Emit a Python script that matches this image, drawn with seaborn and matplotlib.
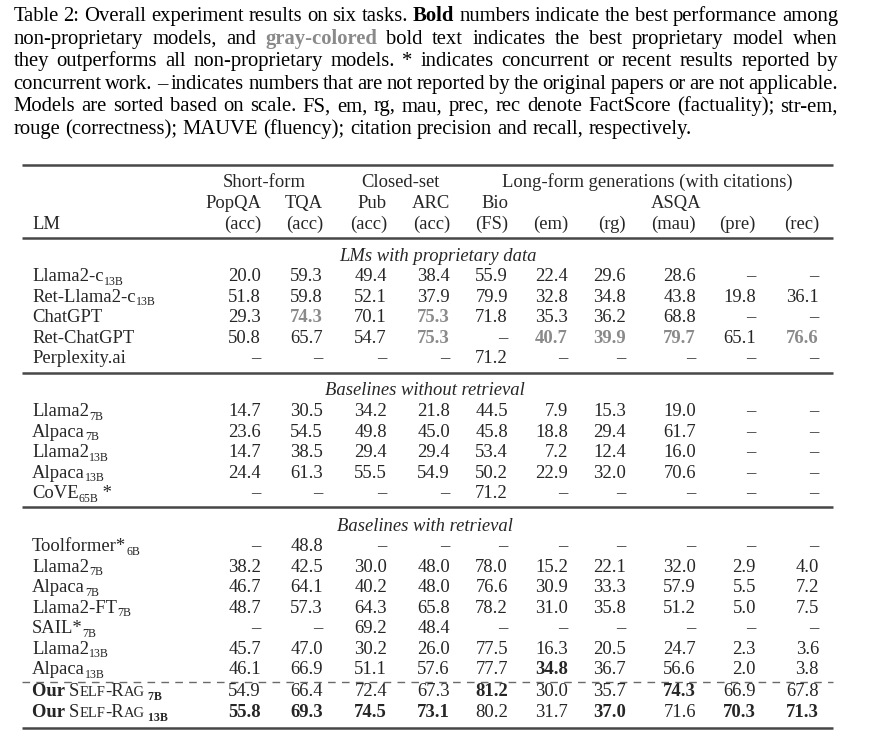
import matplotlib
matplotlib.use('Agg')
import seaborn as sns
import matplotlib.pyplot as plt

sns.set_theme(style='white')
plt.rcParams['font.family'] = ['Liberation Serif', 'DejaVu Serif']

NA = None
# model names, size subscripts and groups
models = ['Llama2-c', 'Ret-Llama2-c', 'ChatGPT', 'Ret-ChatGPT', 'Perplexity.ai',
          'Llama2', 'Alpaca', 'Llama2', 'Alpaca', 'CoVE',
          'Toolformer*', 'Llama2', 'Alpaca', 'Llama2-FT', 'SAIL*', 'Llama2', 'Alpaca',
          'SELF-RAG', 'SELF-RAG']
sizes = ['13B', '13B', '', '', '',
         '7B', '7B', '13B', '13B', '65B',
         '6B', '7B', '7B', '7B', '7B', '13B', '13B',
         '7B', '13B']
groups = ['LMs with proprietary data', 'Baselines without retrieval', 'Baselines with retrieval']

# results
popqa = [20.0, 51.8, 29.3, 50.8, NA, 14.7, 23.6, 14.7, 24.4, NA, NA, 38.2, 46.7, 48.7, NA, 45.7, 46.1, 54.9, 55.8]
tqa = [59.3, 59.8, 74.3, 65.7, NA, 30.5, 54.5, 38.5, 61.3, NA, 48.8, 42.5, 64.1, 57.3, NA, 47.0, 66.9, 66.4, 69.3]
pub = [49.4, 52.1, 70.1, 54.7, NA, 34.2, 49.8, 29.4, 55.5, NA, NA, 30.0, 40.2, 64.3, 69.2, 30.2, 51.1, 72.4, 74.5]
arc = [38.4, 37.9, 75.3, 75.3, NA, 21.8, 45.0, 29.4, 54.9, NA, NA, 48.0, 48.0, 65.8, 48.4, 26.0, 57.6, 67.3, 73.1]
bio = [55.9, 79.9, 71.8, NA, 71.2, 44.5, 45.8, 53.4, 50.2, 71.2, NA, 78.0, 76.6, 78.2, NA, 77.5, 77.7, 81.2, 80.2]
em = [22.4, 32.8, 35.3, 40.7, NA, 7.9, 18.8, 7.2, 22.9, NA, NA, 15.2, 30.9, 31.0, NA, 16.3, 34.8, 30.0, 31.7]
rg = [29.6, 34.8, 36.2, 39.9, NA, 15.3, 29.4, 12.4, 32.0, NA, NA, 22.1, 33.3, 35.8, NA, 20.5, 36.7, 35.7, 37.0]
mau = [28.6, 43.8, 68.8, 79.7, NA, 19.0, 61.7, 16.0, 70.6, NA, NA, 32.0, 57.9, 51.2, NA, 24.7, 56.6, 74.3, 71.6]
pre = [NA, 19.8, NA, 65.1, NA, NA, NA, NA, NA, NA, NA, 2.9, 5.5, 5.0, NA, 2.3, 2.0, 66.9, 70.3]
rec = [NA, 36.1, NA, 76.6, NA, NA, NA, NA, NA, NA, NA, 4.0, 7.2, 7.5, NA, 3.6, 3.8, 67.8, 71.3]
columns = [popqa, tqa, pub, arc, bio, em, rg, mau, pre, rec]

task_labels = ['PopQA', 'TQA', 'Pub', 'ARC', 'Bio', '', '', 'ASQA', '', '']
metric_labels = ['(acc)', '(acc)', '(acc)', '(acc)', '(FS)', '(em)', '(rg)', '(mau)', '(pre)', '(rec)']
super_labels = ['Short-form', 'Closed-set', 'Long-form generations (with citations)']

# emphasis (row, col)
bold_cells = {(16, 5), (17, 4), (17, 7), (18, 0), (18, 1), (18, 2), (18, 3), (18, 6), (18, 8), (18, 9)}
gray_cells = {(2, 1), (2, 3), (3, 3), (3, 5), (3, 6), (3, 7), (3, 9)}

caption = [
    [('Table 2: Overall experiment results on six tasks.', 'n'), ('Bold', 'b'),
     ('numbers indicate the best performance among', 'n')],
    [('non-proprietary models, and', 'n'), ('gray-colored', 'g'),
     ('bold text indicates the best proprietary model when', 'n')],
    [('they outperforms all non-proprietary models. * indicates concurrent or recent results reported by', 'n')],
    [('concurrent work. – indicates numbers that are not reported by the original papers or are not applicable.', 'n')],
    [('Models are sorted based on scale. FS, em, rg, mau, prec, rec denote FactScore (factuality); str-em,', 'n')],
    [('rouge (correctness); MAUVE (fluency); citation precision and recall, respectively.', 'n')],
]

# ---- layout (pixels) ----
W, H = 879, 738
FS = 13.4
CAP_FS = 14.9
GRAY = '#8a8a8a'
col_right = [261, 323, 387, 450, 508, 568, 626, 696, 756, 819]
super_center = [264, 400, 647]
row_y = [275, 295.5, 316, 336.5, 357,
         410, 430.5, 451, 471.5, 492,
         545, 565.5, 586, 606.5, 627, 647.5, 668, 690, 711]
group_y = [255, 389, 525]
group_cx = [438, 425, 425]
BL = 6.3  # centre -> baseline offset

fig = plt.figure(figsize=(W / 100, H / 100), dpi=100)
ax = fig.add_axes([0, 0, 1, 1])
ax.set_xlim(0, W)
ax.set_ylim(H, 0)
ax.axis('off')
renderer = fig.canvas.get_renderer()


def put(x, y, s, **kw):
    kw.setdefault('fontsize', FS)
    kw.setdefault('va', 'baseline')
    return ax.text(x, y, s, **kw)


def width(t):
    return t.get_window_extent(renderer).width


def segments(x, y, segs):
    # segs: list of (text, kwargs, dy)
    for s, kw, dy in segs:
        t = put(x, y + dy, s, **kw)
        x += width(t)
    return x


# caption, justified
x0, x1 = 13.5, 838
space_w = 0.25 * CAP_FS * 100 / 72
for i, line in enumerate(caption):
    y = 21 + i * 22.6
    words = []
    for chunk, st in line:
        for w in chunk.split(' '):
            words.append((w, st))
    arts = []
    for w, st in words:
        color = GRAY if st == 'g' else 'black'
        weight = 'bold' if st in ('b', 'g') else 'normal'
        arts.append(put(0, y, w, color=color, fontweight=weight, fontsize=CAP_FS))
    ws = [width(a) for a in arts]
    if i < len(caption) - 1:
        gap = max((x1 - x0 - sum(ws)) / (len(ws) - 1), 2.5)
    else:
        gap = space_w
    x = x0
    for a, w in zip(arts, ws):
        a.set_x(x)
        x += w + gap

# rules
L, R = 22, 833
for yy in [165, 238, 373, 507, 728]:
    ax.plot([L, R], [yy, yy], color='#474747', lw=1.8, solid_capstyle='butt')
ax.plot([L, R], [681.5, 681.5], color='#6a6a6a', lw=1.0, dashes=(5.5, 4.5))

# header
for lab, cx in zip(super_labels, super_center):
    put(cx, 181 + BL, lab, ha='center')
for j, lab in enumerate(task_labels):
    if lab:
        put(col_right[j] + (5 if lab == 'ASQA' else 0), 202 + BL, lab, ha='right')
for j, lab in enumerate(metric_labels):
    put(col_right[j], 223 + BL, lab, ha='right')
put(32, 223 + BL, 'LM')

# group titles
for g, y, cx in zip(groups, group_y, group_cx):
    put(cx, y + BL, g, ha='center', style='italic')

# rows
sub_kw = dict(fontsize=8.6)
sc_kw = dict(fontsize=FS * 0.78)
for i, name in enumerate(models):
    y = row_y[i] + BL
    if name == 'SELF-RAG':
        segs = [('Our ', dict(fontweight='bold'), 0),
                ('S', {}, 0), ('ELF', sc_kw, 0), ('-R', {}, 0), ('AG', sc_kw, 0),
                (' ' + sizes[i], dict(fontsize=8.6, fontweight='bold'), 3.5)]
    else:
        segs = [(name, {}, 0)]
        if sizes[i]:
            segs.append((sizes[i], sub_kw, 3.5))
        if name == 'CoVE':
            segs.append((' *', {}, 0))
    segments(32, y, segs)
    for j, col in enumerate(columns):
        v = col[i]
        s = '–' if v is None else f'{v:.1f}'
        kw = {}
        if (i, j) in bold_cells:
            kw['fontweight'] = 'bold'
        if (i, j) in gray_cells:
            kw['fontweight'] = 'bold'
            kw['color'] = GRAY
        put(col_right[j], y, s, ha='right', **kw)

fig.savefig('out.png', dpi=100)
